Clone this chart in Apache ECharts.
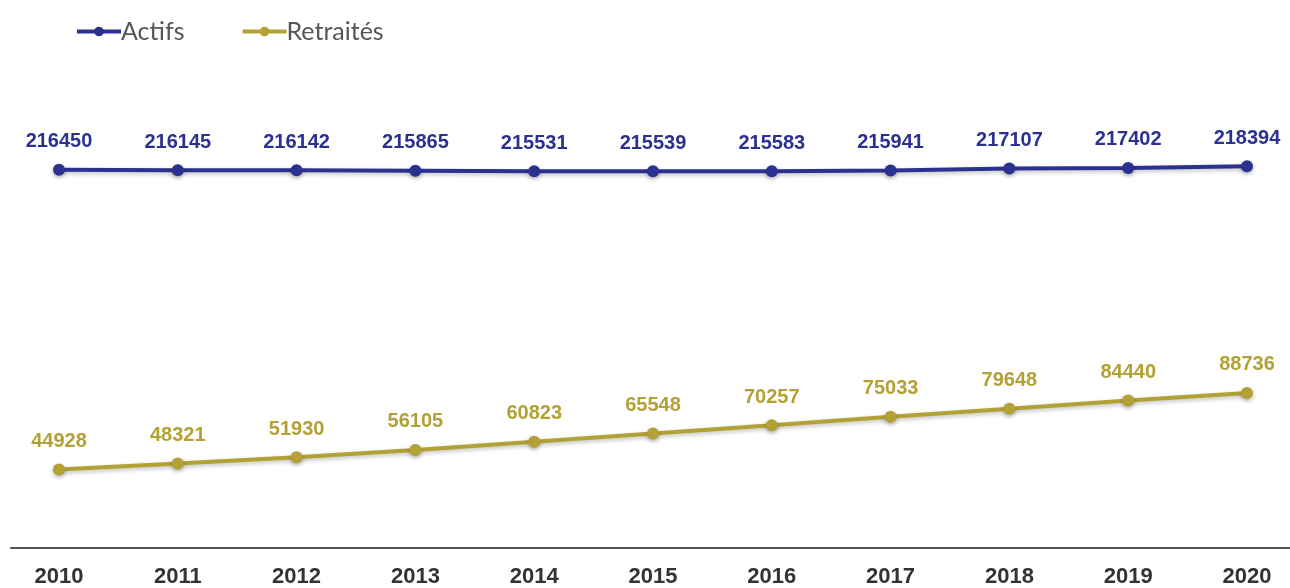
<!DOCTYPE html>
<html>
<head>
<meta charset="utf-8">
<script src="https://cdn.jsdelivr.net/npm/echarts@6/dist/echarts.min.js"></script>
<style>
  html, body { margin: 0; padding: 0; background: #fff; }
  #chart { width: 1290px; height: 588px; }
</style>
</head>
<body>
<div id="chart"></div>
<script>
// data
const years = [2010, 2011, 2012, 2013, 2014, 2015, 2016, 2017, 2018, 2019, 2020];
const actifs = [216450, 216145, 216142, 215865, 215531, 215539, 215583, 215941, 217107, 217402, 218394];
const retraites = [44928, 48321, 51930, 56105, 60823, 65548, 70257, 75033, 79648, 84440, 88736];

const blue = '#2b3190';
const gold = '#b3a135';

const myChart = echarts.init(document.getElementById('chart'));

function pairs(vals) {
  return years.map((y, i) => [y, vals[i]]);
}

function lineSeries(name, vals, color) {
  return {
    name: name,
    type: 'line',
    data: pairs(vals),
    symbol: 'circle',
    symbolSize: 12,
    lineStyle: {
      color: color, width: 4,
      shadowColor: 'rgba(0,0,0,0.25)', shadowBlur: 4, shadowOffsetY: 2
    },
    itemStyle: {
      color: color,
      shadowColor: 'rgba(0,0,0,0.3)', shadowBlur: 4, shadowOffsetY: 2
    },
    label: {
      show: true,
      position: 'top',
      distance: 12,
      color: color,
      fontFamily: 'Liberation Sans, Arial, sans-serif',
      fontWeight: 'bold',
      fontSize: 20,
      formatter: p => String(p.value[1])
    },
    emphasis: { disabled: true },
    animation: false
  };
}

const option = {
  backgroundColor: '#fff',
  legend: {
    left: 70,
    top: 14,
    itemWidth: 44,
    itemHeight: 12,
    itemGap: 56,
    lineStyle: { width: 4, shadowBlur: 0 },
    itemStyle: { shadowBlur: 0 },
    textStyle: { fontFamily: 'Lato, sans-serif', fontSize: 25, color: '#555', padding: [0, 0, 0, -5] },
    data: ['Actifs', 'Retraités']
  },
  grid: { left: 11, right: 0, top: 111, bottom: 38 },
  xAxis: {
    type: 'value',
    min: 2009.596,
    max: 2020.362,
    splitLine: { show: false },
    axisTick: { show: false },
    axisLine: { show: true, onZero: false, lineStyle: { color: '#555', width: 2 } },
    axisLabel: {
      customValues: years,
      formatter: v => String(v),
      margin: 18,
      color: '#333',
      fontFamily: 'Liberation Sans, Arial, sans-serif',
      fontWeight: 'bold',
      fontSize: 22
    }
  },
  yAxis: {
    type: 'value',
    min: 0,
    max: 250000,
    show: false,
    splitLine: { show: false }
  },
  series: [
    lineSeries('Actifs', actifs, blue),
    lineSeries('Retraités', retraites, gold)
  ]
};

myChart.setOption(option);
</script>
</body>
</html>
